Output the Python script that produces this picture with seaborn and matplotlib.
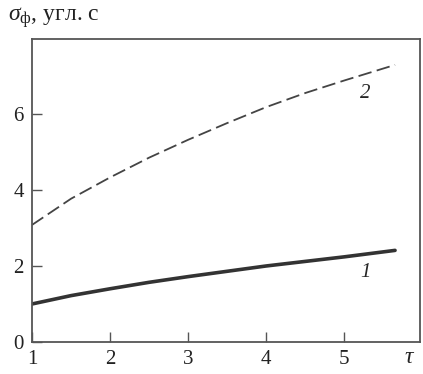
import matplotlib
matplotlib.use("Agg")
import matplotlib.pyplot as plt
import pandas as pd
import seaborn as sns

# curve values
tau = [1.0, 1.5, 2.0, 2.5, 3.0, 3.5, 4.0, 4.5, 5.0, 5.65]
sigma_1 = [1.0, 1.22, 1.40, 1.57, 1.72, 1.86, 2.0, 2.12, 2.24, 2.41]
sigma_2 = [3.08, 3.77, 4.33, 4.85, 5.32, 5.76, 6.18, 6.55, 6.88, 7.29]
curve_labels = ["1", "2"]
xticks = [1, 2, 3, 4, 5]
yticks = [0, 2, 4, 6]

sns.set_style("ticks")
plt.rcParams["font.family"] = ["Liberation Serif", "DejaVu Serif"]
plt.rcParams["mathtext.fontset"] = "custom"
plt.rcParams["mathtext.rm"] = "Liberation Serif"
plt.rcParams["mathtext.it"] = "Liberation Serif:italic"
plt.rcParams["font.size"] = 15

df = pd.concat([
    pd.DataFrame({"tau": tau, "sigma": sigma_1, "curve": curve_labels[0]}),
    pd.DataFrame({"tau": tau, "sigma": sigma_2, "curve": curve_labels[1]}),
])

fig = plt.figure(figsize=(4.23, 3.74), dpi=100)
ax = fig.add_axes([0.0757, 0.0856, 0.9173, 0.81])

sns.lineplot(
    data=df, x="tau", y="sigma", hue="curve", style="curve",
    palette={"1": "#333333", "2": "#444444"},
    dashes={"1": "", "2": (7.5, 3)},
    size="curve", sizes={"1": 2.6, "2": 1.3},
    legend=False, ax=ax,
)

ax.set_xlim(1, 5.97)
ax.set_ylim(0, 7.97)
ax.set_xticks(xticks)
ax.set_yticks(yticks)
ax.tick_params(direction="in", length=7, width=1, color="#555555",
               labelsize=15, pad=6, labelcolor="#222222")
for sp in ax.spines.values():
    sp.set_color("#555555")
    sp.set_linewidth(1.3)
ax.set_xlabel("")
ax.set_ylabel("")

ax.text(5.27, 1.84, "1", style="italic", fontsize=15, ha="center", va="center")
ax.text(5.27, 6.55, "2", style="italic", fontsize=15, ha="center", va="center")

fig.text(0.968, 0.015, r"$\tau$", fontsize=17, ha="center", va="bottom")
fig.text(0.02, 0.945, r"$\sigma_\mathrm{ф}$, угл. с", fontsize=17,
         ha="left", va="baseline", color="#222222")

fig.savefig("out.png", dpi=100)
